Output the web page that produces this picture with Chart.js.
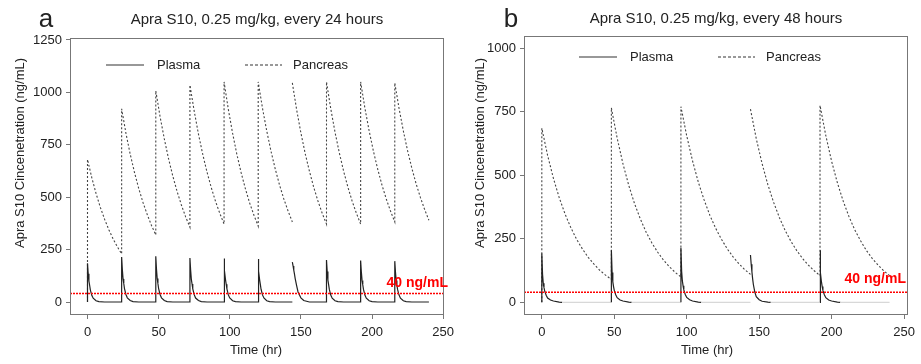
<!DOCTYPE html>
<html>
<head>
<meta charset="utf-8">
<script src="https://cdn.jsdelivr.net/npm/chart.js@4/dist/chart.umd.min.js"></script>
<style>
  html, body { margin:0; padding:0; background:#fff; }
  #wrap { position:relative; width:921px; height:364px; overflow:hidden; }
  #wrap canvas { position:absolute; top:0; }
</style>
</head>
<body>
<div id="wrap">
  <canvas id="chartA" width="460" height="364" style="left:0"></canvas>
  <canvas id="chartB" width="461" height="364" style="left:460px"></canvas>
</div>
<script>
// ---- panel a : every 24 hours ----
const dosesA = [0, 24, 48, 72, 96, 120, 144, 168, 192, 216];
const endA = 240;
const gapsA = [144];              // doses where no vertical rise is drawn
const pancOffA = [0, 3, 6, 9, 12, 15, 18, 21, 24];
const pancA = [
  [680, 594, 518, 452, 395, 345, 301, 263, 230],
  [922, 806, 706, 619, 542, 475, 417, 365, 320],
  [1008, 885, 778, 683, 600, 527, 463, 406, 357],
  [1035, 911, 801, 705, 620, 546, 480, 423, 372],
  [1050, 919, 805, 704, 617, 540, 472, 414, 362],
  [1050, 925, 816, 719, 634, 558, 492, 434, 382],
  [1045, 918, 807, 709, 624, 548, 482, 423, 372],
  [1050, 922, 810, 712, 625, 549, 482, 424, 372],
  [1050, 925, 816, 719, 634, 558, 492, 434, 382],
  [1045, 924, 817, 722, 638, 564, 499, 441, 390]
];
const plasOffA = [0, 0.5, 1, 1.5, 2, 3, 4, 6, 8, 12];
const plasA = [
  [185, 135, 100, 80, 58, 32, 18, 6, 2, 0],
  [215, 155, 110, 88, 64, 36, 20, 7, 2, 0],
  [218, 156, 112, 88, 64, 36, 20, 7, 2, 0],
  [210, 152, 108, 86, 62, 35, 19, 7, 2, 0],
  [207, 150, 107, 85, 62, 34, 19, 6, 2, 0],
  [205, 148, 106, 84, 61, 34, 19, 6, 2, 0],
  [190, 172, 152, 133, 112, 78, 48, 20, 7, 0],
  [200, 145, 104, 83, 60, 33, 18, 6, 2, 0],
  [198, 144, 103, 82, 60, 33, 18, 6, 2, 0],
  [195, 142, 102, 81, 59, 33, 18, 6, 2, 0]
];

// ---- panel b : every 48 hours ----
const dosesB = [0, 48, 96, 144, 192];
const endB = 240;
const gapsB = [144];
const pancOffB = [0, 4, 8, 12, 16, 20, 24, 28, 32, 36, 40, 44, 48];
const pancB = [
  [685, 578, 488, 412, 348, 294, 248, 210, 177, 150, 126, 107, 90],
  [765, 646, 545, 460, 388, 328, 276, 233, 197, 166, 140, 118, 100],
  [770, 655, 557, 473, 403, 342, 291, 248, 210, 179, 152, 129, 110],
  [760, 644, 546, 463, 393, 333, 282, 239, 203, 172, 146, 124, 105],
  [775, 656, 555, 470, 398, 337, 285, 242, 204, 173, 147, 124, 105]
];
const plasOffB = [0, 0.5, 1, 1.5, 2, 3, 4, 6, 8, 12, 14];
const plasB = [
  [192, 110, 75, 58, 44, 28, 17, 9, 5, 1, 0],
  [205, 117, 80, 62, 47, 30, 18, 9, 5, 1, 0],
  [215, 122, 84, 65, 49, 31, 19, 10, 5, 1, 0],
  [186, 150, 120, 92, 70, 40, 22, 10, 4, 1, 0],
  [205, 117, 80, 62, 47, 30, 18, 9, 5, 1, 0]
];

const threshold = 40;
const yTitle = 'Apra S10 Cincenetration (ng/mL)';
const xTitle = 'Time (hr)';
const legendNames = ['Plasma', 'Pancreas'];

const FONT = "'Liberation Sans', Arial, Helvetica, sans-serif";
Chart.defaults.font.family = FONT;
Chart.defaults.color = '#222';

function pancPoints(doses, offs, cycles, gaps){
  const pts = [{x: doses[0], y: 0}];
  cycles.forEach((vals, i) => {
    const d = doses[i];
    if (gaps.includes(d)) pts.push({x: d, y: null});
    vals.forEach((v, j) => pts.push({x: d + offs[j], y: v}));
  });
  return pts;
}

function plasPoints(doses, offs, cycles, gaps, end){
  const pts = [];
  cycles.forEach((vals, i) => {
    const d = doses[i];
    pts.push({x: d, y: 0});
    if (gaps.includes(d)) pts.push({x: d, y: null});
    vals.forEach((v, j) => pts.push({x: d + offs[j], y: v}));
  });
  pts.push({x: end, y: 0});
  return pts;
}

const annot = {
  id: 'annot',
  afterDraw(chart, args, o){
    const {ctx, chartArea: a} = chart;
    ctx.save();
    // box
    ctx.strokeStyle = '#777'; ctx.lineWidth = 1;
    ctx.strokeRect(Math.round(a.left) + 0.5, Math.round(a.top) + 0.5,
                   Math.round(a.right - a.left) - 1, Math.round(a.bottom - a.top) - 1);
    ctx.fillStyle = '#222';
    ctx.textBaseline = 'alphabetic';
    ctx.textAlign = 'center';
    ctx.font = `26px ${FONT}`;
    ctx.fillText(o.letter, o.letterX, 27);
    ctx.font = `15px ${FONT}`;
    ctx.fillText(o.title, o.titleX, o.titleY);
    ctx.font = `13px ${FONT}`;
    ctx.textBaseline = 'middle';
    ctx.fillText(xTitle, o.xTitleX, 350);
    ctx.save();
    ctx.translate(o.yTitleX, 153);
    ctx.rotate(-Math.PI / 2);
    ctx.fillText(yTitle, 0, 0);
    ctx.restore();
    // legend
    ctx.strokeStyle = '#333'; ctx.lineWidth = 1.2;
    ctx.beginPath(); ctx.moveTo(o.legX[0], o.legY); ctx.lineTo(o.legX[0] + 38, o.legY); ctx.stroke();
    ctx.setLineDash([3, 2]);
    ctx.beginPath(); ctx.moveTo(o.legX[1], o.legY); ctx.lineTo(o.legX[1] + 37, o.legY); ctx.stroke();
    ctx.setLineDash([]);
    ctx.textAlign = 'left';
    ctx.fillText(legendNames[0], o.legX[0] + 51, o.legY);
    ctx.fillText(legendNames[1], o.legX[1] + 48, o.legY);
    // threshold label
    ctx.fillStyle = '#ff0000';
    ctx.font = `bold 14px ${FONT}`;
    ctx.textAlign = 'right';
    ctx.fillText(threshold + ' ng/mL', o.labX, o.labY);
    ctx.restore();
  }
};

function makeChart(id, p){
  const segment = p.grayTail
    ? {borderColor: c => (c.p0.parsed.y === 0 && c.p1.parsed.y === 0) ? '#d8d8d8' : undefined}
    : undefined;
  const plain = v => String(v);
  return new Chart(document.getElementById(id), {
    type: 'line',
    data: { datasets: [
      { data: [{x: p.xMin, y: threshold}, {x: p.xMax, y: threshold}],
        borderColor: '#ff0000', borderWidth: 1.5, borderDash: [2, 1] },
      { data: p.plasma, borderColor: '#222', borderWidth: 1.2, segment },
      { data: p.panc, borderColor: '#444', borderWidth: 1.1, borderDash: [2, 2] }
    ]},
    options: {
      responsive: false, animation: false, spanGaps: false,
      layout: { padding: { top: p.top, right: p.right, left: 0, bottom: 0 } },
      elements: { point: { radius: 0 }, line: { tension: 0 } },
      plugins: { legend: { display: false }, tooltip: { enabled: false }, annot: p.annot },
      scales: {
        x: { type: 'linear', min: p.xMin, max: p.xMax,
             afterFit: s => { s.height = 49; },
             ticks: { stepSize: 50, includeBounds: false, padding: 6, maxRotation: 0, font: { size: 13 }, color: '#222', callback: plain },
             grid: { display: true, drawOnChartArea: false, tickLength: 4, color: '#777' },
             border: { display: false } },
        y: { type: 'linear', min: p.yMin, max: p.yMax,
             afterFit: s => { s.width = p.yWidth; },
             ticks: { stepSize: 250, includeBounds: false, padding: 4, font: { size: 13 }, color: '#222', callback: plain },
             grid: { display: true, drawOnChartArea: false, tickLength: 4, color: '#777' },
             border: { display: false } }
      }
    },
    plugins: [annot]
  });
}

makeChart('chartA', {
  plasma: plasPoints(dosesA, plasOffA, plasA, gapsA, endA),
  panc: pancPoints(dosesA, pancOffA, pancA, gapsA),
  xMin: -12.3, xMax: 250.7, yMin: -62, yMax: 1259.5,
  top: 38, right: 4, yWidth: 70, grayTail: false,
  annot: { letter: 'a', letterX: 46, title: 'Apra S10, 0.25 mg/kg, every 24 hours', titleX: 257, titleY: 24,
           xTitleX: 256, yTitleX: 20, legX: [106, 245], legY: 65, labX: 448, labY: 283 }
});

makeChart('chartB', {
  plasma: plasPoints(dosesB, plasOffB, plasB, gapsB, endB),
  panc: pancPoints(dosesB, pancOffB, pancB, gapsB),
  xMin: -12.3, xMax: 252.7, yMin: -50, yMax: 1048,
  top: 36, right: 10, yWidth: 64, grayTail: true,
  annot: { letter: 'b', letterX: 51, title: 'Apra S10, 0.25 mg/kg, every 48 hours', titleX: 256, titleY: 23,
           xTitleX: 247, yTitleX: 20, legX: [119, 258], legY: 57, labX: 446, labY: 279 }
});
</script>
</body>
</html>
